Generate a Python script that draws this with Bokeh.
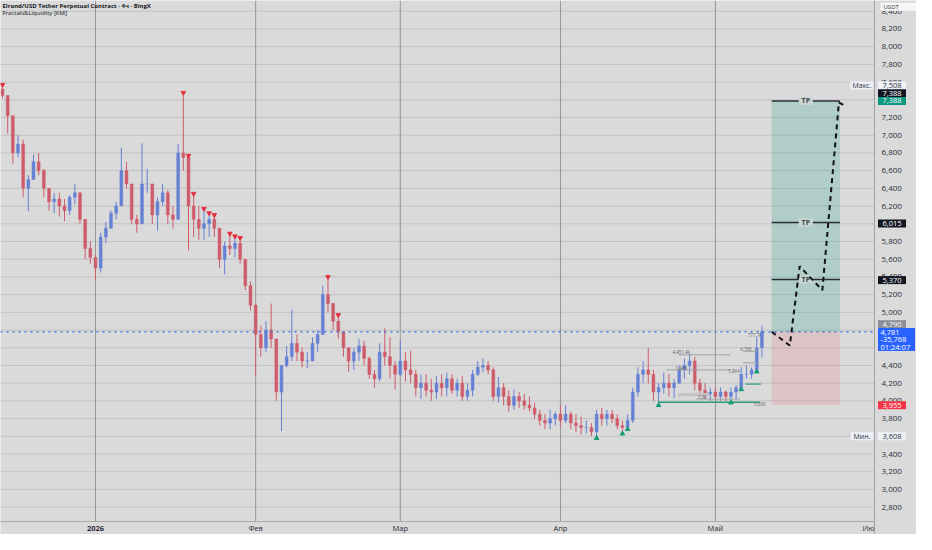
from bokeh.plotting import figure
from bokeh.models import ColumnDataSource, Range1d
from bokeh.embed import file_html
from bokeh.resources import INLINE
from bokeh.core.properties import value

# ---------------- data (days since 2026-01-01, daily bars) -------------
days = list(range(-18, 130))
close = [7.45, 7.22, 6.80, 6.90, 6.40, 6.50, 6.70, 6.60, 6.40, 6.25, 6.28, 6.20, 6.15, 6.30, 6.35, 6.05, 5.72, 5.62,
         5.50, 5.85, 5.95, 6.12, 6.20, 6.60, 6.45, 6.05, 6.00, 6.45, 6.45, 6.10, 6.25, 6.35, 6.10, 6.05, 6.80, 6.75,
         6.20, 6.05, 5.95, 6.00, 6.05, 5.95, 5.60, 5.75, 5.72, 5.78, 5.60, 5.30, 5.08, 4.75, 4.60, 4.80, 4.70, 4.10,
         4.40, 4.50, 4.65, 4.55, 4.45, 4.45, 4.65, 4.75, 5.20, 5.10, 4.90, 4.78, 4.60, 4.45, 4.55, 4.62, 4.48, 4.30,
         4.25, 4.55, 4.50, 4.40, 4.30, 4.45, 4.35, 4.30, 4.15, 4.20, 4.12, 4.10, 4.20, 4.15, 4.25, 4.12, 4.20, 4.05,
         4.12, 4.30, 4.38, 4.40, 4.35, 4.05, 4.15, 4.05, 3.95, 4.05, 4.00, 3.95, 3.92, 3.85, 3.78, 3.75, 3.80, 3.85,
         3.78, 3.85, 3.75, 3.72, 3.70, 3.70, 3.65, 3.85, 3.80, 3.85, 3.80, 3.72, 3.70, 3.78, 4.10, 4.30, 4.35, 4.30,
         4.10, 4.15, 4.20, 4.15, 4.20, 4.35, 4.40, 4.45, 4.20, 4.12, 4.08, 4.10, 4.05, 4.10, 4.05, 4.10, 4.15, 4.30,
         4.30, 4.35, 4.60, 4.781]
high = [7.55, 7.45, 7.22, 7.00, 6.95, 6.55, 6.78, 6.80, 6.62, 6.40, 6.35, 6.35, 6.28, 6.32, 6.45, 6.35, 6.05, 5.80,
        5.65, 5.90, 6.02, 6.15, 6.25, 6.86, 6.70, 6.45, 6.10, 6.91, 6.62, 6.45, 6.30, 6.45, 6.38, 6.20, 6.90, 7.46,
        6.75, 6.32, 6.20, 6.15, 6.10, 6.08, 5.95, 5.80, 5.87, 5.84, 5.82, 5.60, 5.35, 5.10, 4.85, 4.90, 5.10, 4.70,
        4.40, 4.62, 5.03, 4.75, 4.60, 4.55, 4.72, 4.80, 5.30, 5.38, 5.10, 4.95, 4.78, 4.60, 4.60, 4.70, 4.68, 4.50,
        4.35, 4.65, 4.82, 4.72, 4.45, 4.68, 4.55, 4.57, 4.35, 4.30, 4.30, 4.25, 4.28, 4.30, 4.32, 4.30, 4.25, 4.28,
        4.20, 4.35, 4.45, 4.48, 4.45, 4.38, 4.27, 4.20, 4.12, 4.13, 4.10, 4.08, 4.05, 3.98, 3.90, 3.85, 3.90, 3.88,
        3.95, 3.95, 3.88, 3.85, 3.82, 3.78, 3.75, 3.90, 3.92, 3.90, 3.90, 3.85, 3.78, 3.85, 4.15, 4.38, 4.45, 4.60,
        4.35, 4.20, 4.32, 4.30, 4.25, 4.40, 4.48, 4.53, 4.50, 4.25, 4.20, 4.15, 4.15, 4.15, 4.12, 4.15, 4.18, 4.38,
        4.40, 4.38, 4.72, 4.85]
low = [7.42, 7.02, 6.68, 6.75, 6.30, 6.14, 6.50, 6.55, 6.30, 6.15, 6.12, 6.08, 6.03, 6.10, 6.22, 6.00, 5.60, 5.55,
       5.37, 5.45, 5.78, 5.95, 6.05, 6.20, 6.40, 6.00, 5.90, 6.00, 6.35, 6.00, 5.92, 6.20, 6.00, 5.95, 6.05, 6.60,
       5.70, 5.85, 5.82, 5.82, 5.85, 5.85, 5.50, 5.43, 5.65, 5.62, 5.55, 5.25, 5.02, 4.28, 4.50, 4.55, 4.60, 4.00,
       3.66, 4.38, 4.45, 4.45, 4.38, 4.37, 4.45, 4.55, 4.75, 5.00, 4.80, 4.70, 4.50, 4.33, 4.35, 4.45, 4.40, 4.25,
       4.15, 4.22, 4.40, 4.25, 4.13, 4.28, 4.22, 4.20, 4.05, 4.02, 4.05, 4.00, 4.02, 4.05, 4.05, 4.08, 4.05, 4.00,
       4.00, 4.05, 4.28, 4.32, 4.30, 4.00, 3.98, 3.95, 3.88, 3.90, 3.92, 3.90, 3.88, 3.80, 3.72, 3.68, 3.68, 3.72,
       3.72, 3.75, 3.68, 3.65, 3.62, 3.63, 3.60, 3.60, 3.72, 3.72, 3.75, 3.68, 3.65, 3.70, 3.75, 4.05, 4.20, 4.20,
       4.00, 3.97, 4.08, 4.05, 4.03, 4.20, 4.25, 4.30, 4.12, 4.05, 4.02, 4.00, 4.02, 4.00, 4.00, 4.00, 4.02, 4.15,
       4.25, 4.25, 4.35, 4.49]
first_open = 7.52

fractal_high_days = [-18, 17, 18, 19, 21, 22, 23, 26, 27, 28, 45, 47]
fractal_low_days = [97, 102, 103, 109, 123, 125, 128]

month_ticks = [0, 31, 59, 90, 120]
month_labels = ["2026", "Фев", "Мар", "Апр", "Май"]
price_ticks = [2.8, 3.0, 3.2, 3.4, 3.6, 3.8, 4.0, 4.2, 4.4, 4.6, 4.8, 5.0, 5.2, 5.4, 5.6, 5.8, 6.0,
               6.2, 6.4, 6.6, 6.8, 7.0, 7.2, 7.4, 7.6, 7.8, 8.0, 8.2, 8.4]

# long position tool
entry_price = 4.781
stop_price = 3.955
tp_prices = [5.370, 6.015, 7.388]
tool_start, tool_end = 130.9, 144.1
path_days = [130.9, 134.4, 136.3, 140.7, 143.9, 145.1]
path_prices = [4.78, 4.625, 5.52, 5.25, 7.37, 7.33]

# liquidity lines / zones of the indicator
liq_start = [108.9, 112.8, 116.2, 112.8, 110.5, 125.8, 125.4, 125.4]
liq_end = [128.6, 118.7, 124.8, 122.9, 122.9, 128.8, 128.2, 128.4]
liq_price = [3.985, 4.07, 4.02, 4.52, 4.35, 4.19, 4.56, 4.43]
liq_color = ["#2e9e7c", "#c4c4c4", "#a5a5a5", "#a0a0a0", "#a0a0a0", "#2e9e7c", "#a0a0a0", "#a0a0a0"]
liq_width = [1.5, 3.5, 1, 1, 1, 1.3, 1, 1]
liq_text = ["4,451.4k", "1,466", "7,30", "5,864", "6,765", "777,7k", "3,960"]
liq_text_day = [113.4, 113.4, 117.4, 123.6, 125.9, 127.6, 128.6]
liq_text_price = [4.55, 4.37, 4.045, 4.335, 4.585, 4.74, 3.965]

# price-scale badges: text, background, text colour
badge_text = ["7,508", "7,388", "7,388", "6,015", "5,370", "4,790", "3,955", "3,608"]
badge_bg = ["#eef1f7", "#131722", "#089981", "#131722", "#131722", "#8b8e97", "#f23645", "#eef1f7"]
badge_fg = ["#2a2e39", "#ffffff", "#ffffff", "#ffffff", "#ffffff", "#ffffff", "#ffffff", "#2a2e39"]
badge_cy = [85.0, 92.7, 100.4, 222.9, 279.6, 323.7, 404.7, 435.8]   # canvas pixel rows of the badges
last_lines = ["4,781", "-35,768", "01:24:07"]

# ---------------- layout geometry (canvas pixels) -------------
CW, CH = 916, 534
SEP = 874          # price-scale separator
STRIP = 521        # top of the date strip
PX_DAY = 5.237 * SEP / 886.0
X0 = -96.3 / 5.237
X1 = X0 + CW / PX_DAY
Y1 = 8.2 + 29.3 * 0.010977
PX_PRICE = STRIP / (Y1 - (8.2 - (536 - 29.3) * 0.010977))
Y0 = Y1 - CH / PX_PRICE


def dx(px):
    return X0 + px / PX_DAY


def py(pyx):
    return Y1 - pyx / PX_PRICE


sep_day = dx(SEP)
strip_price = py(STRIP)

p = figure(width=CW, height=CH, output_backend="svg", toolbar_location=None,
           x_range=Range1d(X0, X1), y_range=Range1d(Y0, Y1),
           x_axis_location=None, y_axis_location=None,
           background_fill_color="#dadada", border_fill_color="#dadada",
           outline_line_color=None, min_border=0)
p.grid.visible = False

FONT = value("Open Sans")

# grid
n = len(price_ticks)
p.segment(x0=[X0] * n, x1=[sep_day] * n, y0=price_ticks, y1=price_ticks, color="#c3c3c3", line_width=1)
m = len(month_ticks)
p.segment(x0=month_ticks, x1=month_ticks, y0=[strip_price] * m, y1=[Y1] * m, color="#959595", line_width=1)
# scale borders
p.segment(x0=[X0], x1=[sep_day], y0=[strip_price], y1=[strip_price], color="#a8a8a8", line_width=1)
p.segment(x0=[sep_day], x1=[sep_day], y0=[Y0], y1=[Y1], color="#a0a0a0", line_width=1)

# candles
opens = [first_open] + close[:-1]
up_col, dn_col = "#6580d4", "#cf5b6a"
cols = [up_col if c >= o else dn_col for o, c in zip(opens, close)]
src = ColumnDataSource(dict(d=days, o=opens, c=close, h=high, l=low,
                            top=[max(o, c) for o, c in zip(opens, close)],
                            bot=[min(o, c) for o, c in zip(opens, close)], col=cols))
p.segment(x0="d", y0="l", x1="d", y1="h", color="col", line_width=1, source=src)
p.vbar(x="d", width=0.55, top="top", bottom="bot", fill_color="col", line_color="col", line_width=0.5, source=src)

# fractals
hi_map = dict(zip(days, high))
lo_map = dict(zip(days, low))
p.scatter(fractal_high_days, [hi_map[d] + 0.02 for d in fractal_high_days],
          marker="inverted_triangle", size=4.5, color="#e2313f")
p.scatter(fractal_low_days, [lo_map[d] - 0.02 for d in fractal_low_days],
          marker="triangle", size=4.5, color="#139a74")

# liquidity lines
p.segment(x0=liq_start, x1=liq_end, y0=liq_price, y1=liq_price, color=liq_color, line_width=liq_width)
p.text(x=liq_text_day, y=liq_text_price, text=liq_text, text_align="center", text_baseline="middle",
       text_font=FONT, text_font_size="4.5px", text_color="#5d606b")

# current price line
p.segment(x0=[X0], x1=[sep_day], y0=[entry_price], y1=[entry_price], line_color="#4a78e0",
          line_dash="2 4", line_width=1.5)

# position tool
p.quad(left=[tool_start], right=[tool_end], bottom=[entry_price], top=[tp_prices[-1]],
       fill_color="#089981", fill_alpha=0.2, line_alpha=0)
p.quad(left=[tool_start], right=[tool_end], bottom=[stop_price], top=[entry_price],
       fill_color="#f23645", fill_alpha=0.13, line_alpha=0)
k = len(tp_prices)
p.segment(x0=[tool_start] * k, x1=[tool_end] * k, y0=tp_prices, y1=tp_prices, color="#2a2e39", line_width=1.5)
mid = (tool_start + tool_end) / 2
p.rect(x=[mid] * k, y=tp_prices, width=14, height=8, width_units="screen", height_units="screen",
       fill_color="#c9d6d1", line_color=None)
p.text(x=[mid] * k, y=tp_prices, text=["TP"] * k, text_align="center", text_baseline="middle",
       text_font=FONT, text_font_size="7px", text_font_style="bold", text_color="#434651")
p.line(path_days, path_prices, line_color="#111111", line_width=2, line_dash="5 4")

# price scale tick labels
p.text(x=[dx(881)] * n, y=price_ticks, text=[f"{v:.3f}".replace(".", ",") for v in price_ticks],
       text_align="left", text_baseline="middle", text_font=FONT, text_font_size="8px",
       text_color="#2a2e39")

# badges on the price scale
nb = len(badge_text)
badge_y = [py(c) for c in badge_cy]
p.rect(x=[dx(891.5)] * nb, y=badge_y, width=28, height=8, width_units="screen", height_units="screen",
       fill_color=badge_bg, line_color=None)
p.text(x=[dx(891.5)] * nb, y=badge_y, text=badge_text, text_align="center", text_baseline="middle",
       text_font=FONT, text_font_size="7.5px", text_color=badge_fg)
# max / min captions
cap_y = [py(85.0), py(435.8)]
p.rect(x=[dx(861.5)] * 2, y=cap_y, width=23, height=8, width_units="screen", height_units="screen",
       fill_color="#eef1f7", line_color=None)
p.text(x=[dx(861.5)] * 2, y=cap_y, text=["Макс.", "Мин."], text_align="center", text_baseline="middle",
       text_font=FONT, text_font_size="7px", text_color="#2a2e39")
# last price badge
p.rect(x=[dx(896)], y=[py(338.9)], width=37, height=23, width_units="screen", height_units="screen",
       fill_color="#2962ff", line_color=None)
p.text(x=[dx(880)] * 3, y=[py(332.1), py(339.2), py(346.0)], text=last_lines, text_align="left",
       text_baseline="middle", text_font=FONT, text_font_size="7.5px", text_color="#ffffff")
# currency badge
p.rect(x=[dx(898)], y=[py(6.2)], width=36, height=8, width_units="screen", height_units="screen",
       fill_color="#f7f7f7", line_color=None)
p.text(x=[dx(883)], y=[py(6.2)], text=["USDT"], text_align="left", text_baseline="middle",
       text_font=FONT, text_font_size="6px", text_color="#2a2e39")

# date labels
date_y = py(527.5)
p.text(x=month_ticks[1:], y=[date_y] * (m - 1), text=month_labels[1:], text_align="center",
       text_baseline="middle", text_font=FONT, text_font_size="7.5px", text_color="#2a2e39")
p.text(x=month_ticks[:1], y=[date_y], text=month_labels[:1], text_align="center",
       text_baseline="middle", text_font=FONT, text_font_size="7.5px", text_font_style="bold",
       text_color="#2a2e39")
p.text(x=[sep_day], y=[date_y], text=["Ию"], text_align="right", text_baseline="middle",
       text_font=FONT, text_font_size="7.5px", text_color="#2a2e39")

# chart title
p.text(x=[dx(2)], y=[py(5.8)], text=["Elrond/USD Tether Perpetual Contract · 4ч · BingX"],
       text_baseline="middle", text_font=FONT, text_font_size="6px", text_font_style="bold",
       text_color="#131722")
p.text(x=[dx(2)], y=[py(12.6)], text=["Fractals&Liquidity [KM]"], text_baseline="middle",
       text_font=FONT, text_font_size="6px", text_color="#131722")

open("out.html", "w").write(file_html(p, INLINE))
